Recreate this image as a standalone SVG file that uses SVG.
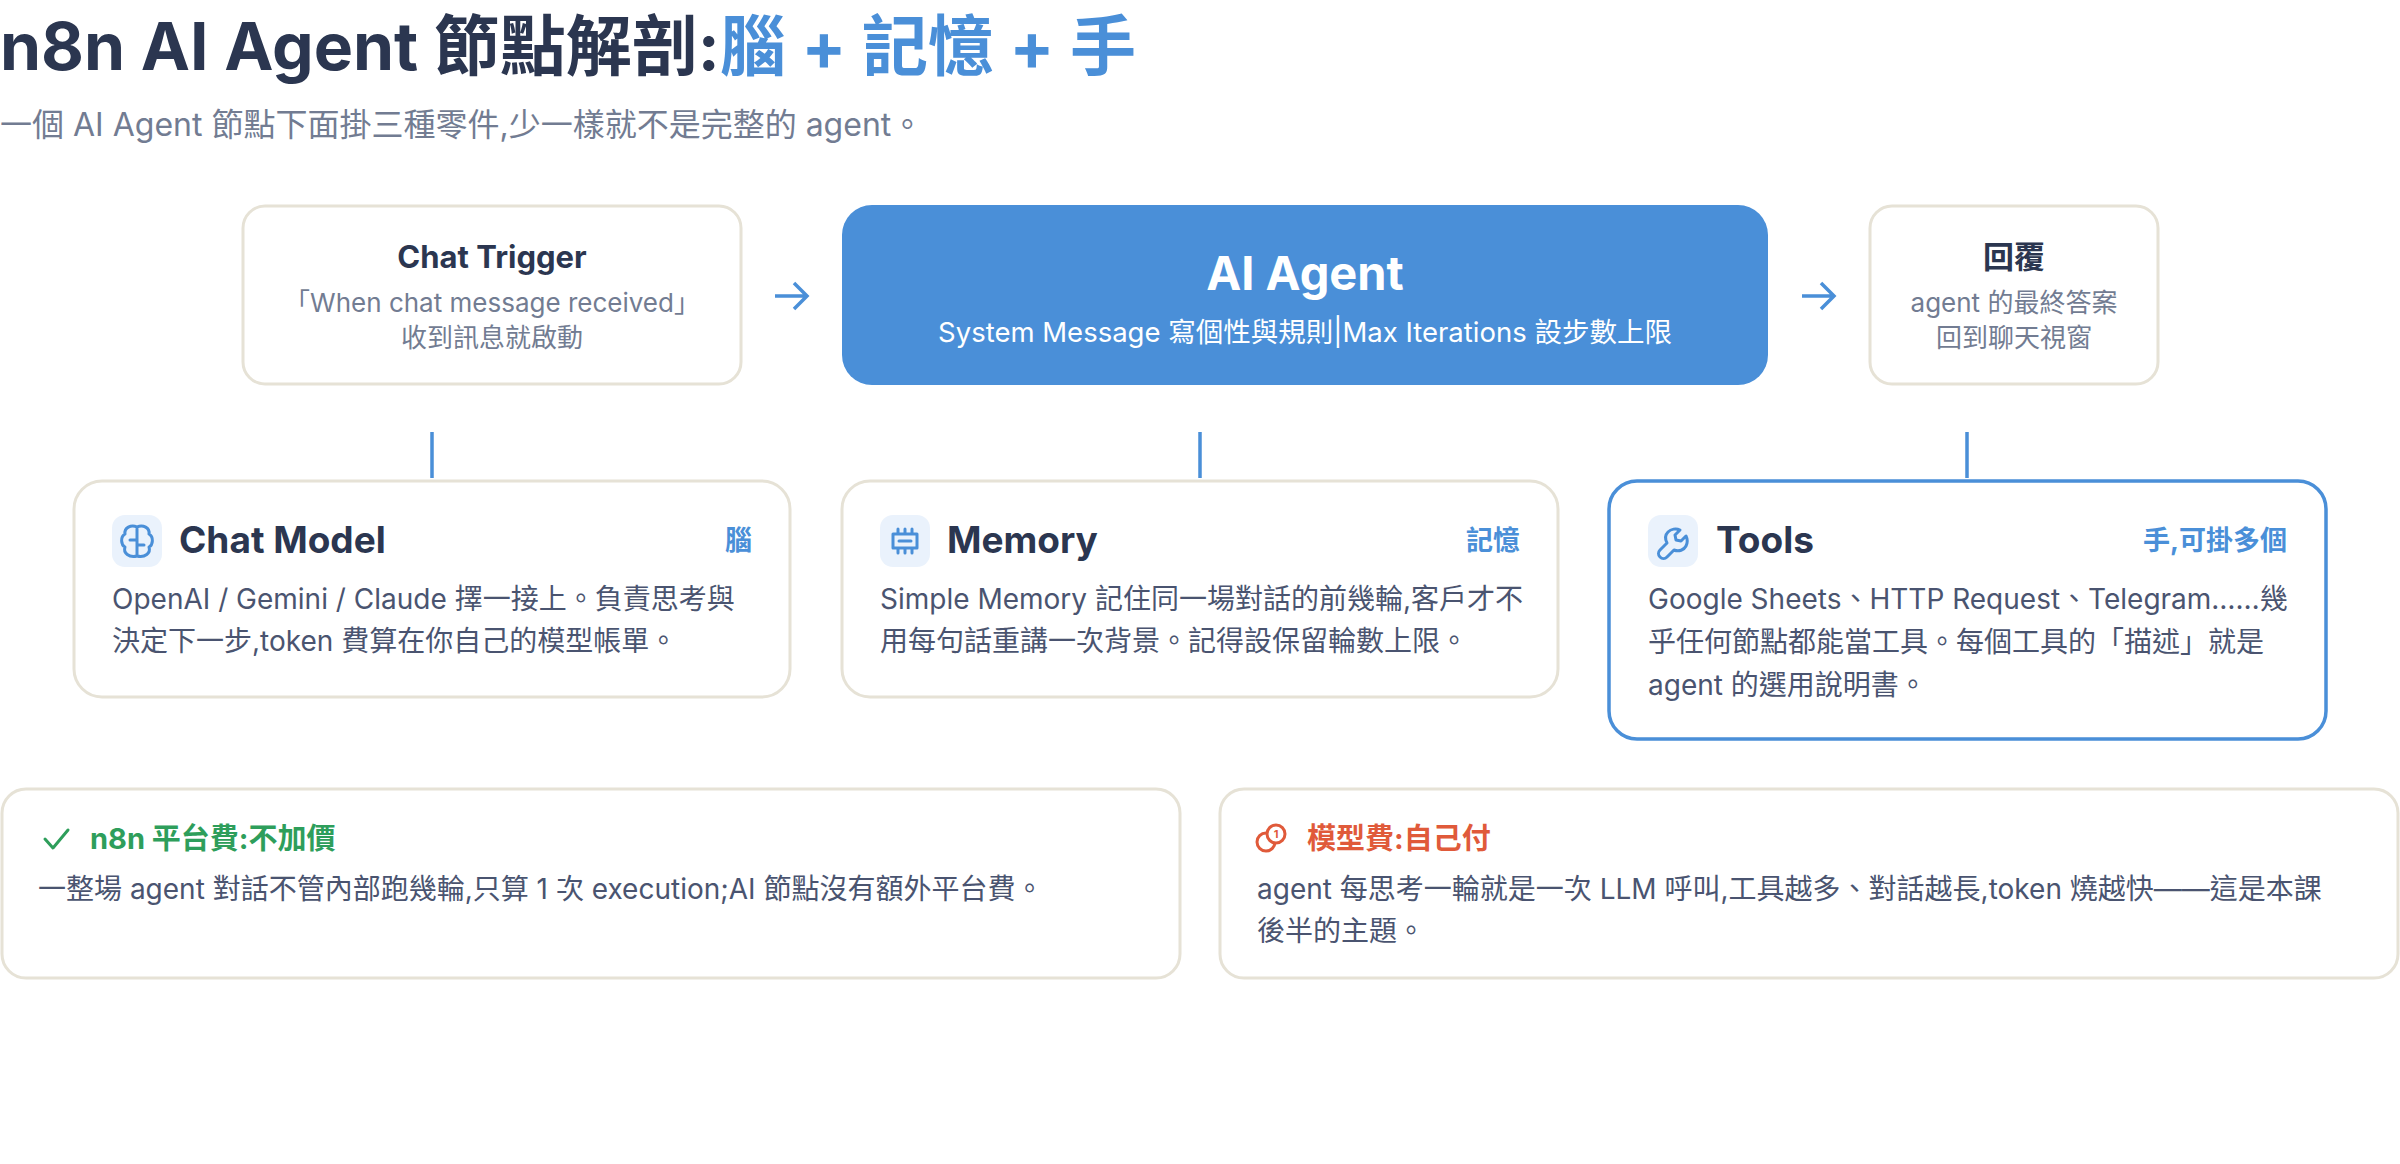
<svg xmlns="http://www.w3.org/2000/svg" width="2400" height="1164" viewBox="0 0 2400 1164">
<style>
text{font-family:"Inter","Noto Sans CJK TC",sans-serif}
.card{fill:#fff;stroke:#e6e2d6;stroke-width:3}
.hl{fill:#fff;stroke:#4a8fd8;stroke-width:3.5}
.t{fill:#2b3650;font-weight:700}
.g{fill:#727c92;font-size:26px}
.b{fill:#4a5470;font-size:28px}
.tag{fill:#4a8fd8;font-weight:700;font-size:27px}
.ib{fill:#eaf2fc}
.ico{fill:none;stroke:#4a8fd8;stroke-width:3;stroke-linecap:round;stroke-linejoin:round}
.con{stroke:#4a8fd8;stroke-width:3.5;fill:none}
</style>
<rect width="2400" height="1164" fill="#fff"/>
<g id="title">
<text x="0" y="70" font-size="66" font-weight="700" fill="#2b3650">n8n AI Agent 節點解剖:<tspan fill="#4a8fd8">腦 + 記憶 + 手</tspan></text>
<text x="0" y="136" font-size="32" fill="#727c92">一個 AI Agent 節點下面掛三種零件,少一樣就不是完整的 agent。</text>
</g>
<g id="connectors">
<path class="con" d="M775 296H806M794 283L807 296L794 309"/>
<path class="con" d="M1802 296H1833M1821 283L1834 296L1821 309"/>
<path class="con" d="M432 432V478M1200 432V478M1967 432V478"/>
</g>
<g id="trigger">
<rect class="card" x="243" y="206" width="498" height="178" rx="22"/>
<text class="t" x="492" y="268" font-size="31" text-anchor="middle">Chat Trigger</text>
<text class="g" x="492" y="312" text-anchor="middle">「When chat message received」</text>
<text class="g" x="492" y="347" text-anchor="middle">收到訊息就啟動</text>
</g>
<g id="agent">
<rect x="842" y="205" width="926" height="180" rx="30" fill="#4a8fd8"/>
<text x="1305" y="290" font-size="47" font-weight="700" fill="#fff" text-anchor="middle">AI Agent</text>
<text x="1305" y="342" font-size="27.5" fill="#fff" text-anchor="middle">System Message 寫個性與規則|Max Iterations 設步數上限</text>
</g>
<g id="reply">
<rect class="card" x="1870" y="206" width="288" height="178" rx="22"/>
<text class="t" x="2014" y="268" font-size="31" text-anchor="middle">回覆</text>
<text class="g" x="2014" y="312" text-anchor="middle">agent 的最終答案</text>
<text class="g" x="2014" y="347" text-anchor="middle">回到聊天視窗</text>
</g>
<g id="chatmodel">
<rect class="card" x="74" y="481" width="716" height="216" rx="28"/>
<rect class="ib" x="112" y="515" width="50" height="52" rx="13"/>
<path class="ico" d="M137 527C131 524 124 528 125 534C120 537 121 545 125 547C123 553 129 558 137 556ZM137 527C143 524 150 528 149 534C154 537 153 545 149 547C151 553 145 558 137 556ZM137 530V554M130 540H137M144 545H137"/>
<text class="t" x="179" y="553" font-size="37">Chat Model</text>
<text class="tag" x="752" y="550" text-anchor="end">腦</text>
<text class="b" x="112" y="609">OpenAI / Gemini / Claude 擇一接上。負責思考與</text>
<text class="b" x="112" y="651">決定下一步,token 費算在你自己的模型帳單。</text>
</g>
<g id="memory">
<rect class="card" x="842" y="481" width="716" height="216" rx="28"/>
<rect class="ib" x="880" y="515" width="50" height="52" rx="13"/>
<path class="ico" d="M893 534H917V548H893ZM898 534V529M905 534V529M912 534V529M898 548V553M905 548V553M912 548V553M899 541H911"/>
<text class="t" x="947" y="553" font-size="37">Memory</text>
<text class="tag" x="1520" y="550" text-anchor="end">記憶</text>
<text class="b" x="880" y="609">Simple Memory 記住同一場對話的前幾輪,客戶才不</text>
<text class="b" x="880" y="651">用每句話重講一次背景。記得設保留輪數上限。</text>
</g>
<g id="tools">
<rect class="hl" x="1609" y="481" width="717" height="258" rx="28"/>
<rect class="ib" x="1648" y="515" width="50" height="52" rx="13"/>
<path class="ico" d="M1667 543L1660 550C1658 552 1658 555 1660 557C1662 559 1665 559 1667 557L1674 550C1679 552 1684 550 1686 546C1688 542 1687 538 1686 536L1681 541L1676 540L1675 535L1680 530C1676 528 1671 529 1668 532C1665 535 1665 539 1667 543Z"/>
<text class="t" x="1716" y="553" font-size="37">Tools</text>
<text class="tag" x="2287" y="550" text-anchor="end">手,可掛多個</text>
<text class="b" x="1648" y="609">Google Sheets、HTTP Request、Telegram……幾</text>
<text class="b" x="1648" y="652">乎任何節點都能當工具。每個工具的「描述」就是</text>
<text class="b" x="1648" y="695">agent 的選用說明書。</text>
</g>
<g id="platform">
<rect class="card" x="2" y="789" width="1178" height="189" rx="24"/>
<path d="M45 839L53 848L68 830" fill="none" stroke="#2e9e5b" stroke-width="3" stroke-linecap="round" stroke-linejoin="round"/>
<text x="90" y="849" font-size="29" font-weight="700" fill="#2e9e5b">n8n 平台費:不加價</text>
<text class="b" x="38" y="899">一整場 agent 對話不管內部跑幾輪,只算 1 次 execution;AI 節點沒有額外平台費。</text>
</g>
<g id="modelfee">
<rect class="card" x="1220" y="789" width="1178" height="189" rx="24"/>
<circle cx="1266" cy="842" r="9" fill="none" stroke="#e05a3a" stroke-width="3"/>
<circle cx="1276" cy="834" r="9" fill="#fff" stroke="#e05a3a" stroke-width="3"/>
<text x="1276" y="838" font-size="11" font-weight="700" fill="#e05a3a" text-anchor="middle">1</text>
<text x="1307" y="849" font-size="29" font-weight="700" fill="#e05a3a">模型費:自己付</text>
<text class="b" x="1257" y="899">agent 每思考一輪就是一次 LLM 呼叫,工具越多、對話越長,token 燒越快——這是本課</text>
<text class="b" x="1257" y="941">後半的主題。</text>
</g>
</svg>
